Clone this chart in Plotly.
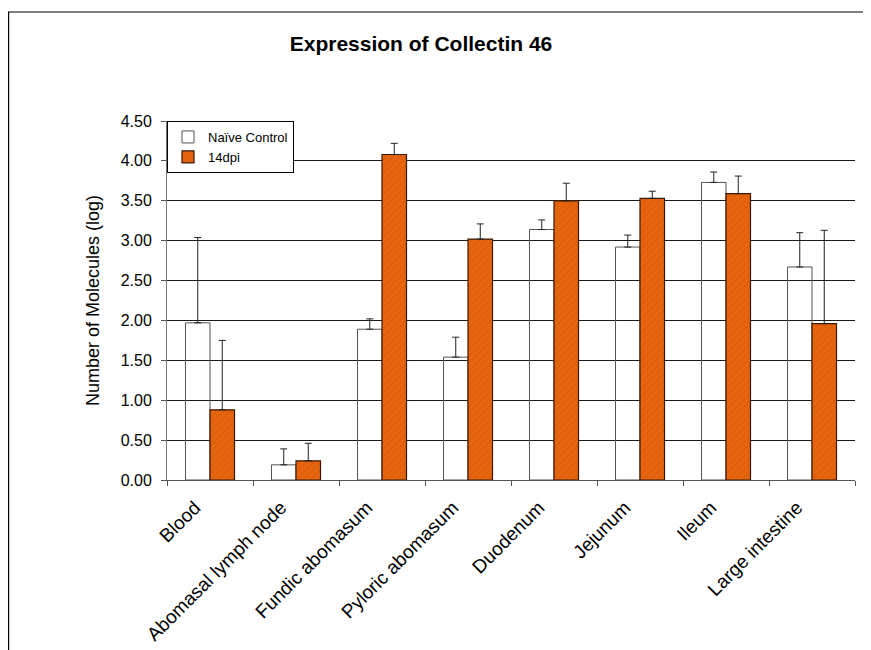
import plotly.graph_objects as go

categories = ["Blood", "Abomasal lymph node", "Fundic abomasum", "Pyloric abomasum",
              "Duodenum", "Jejunum", "Ileum", "Large intestine"]
naive_values = [1.97, 0.19, 1.89, 1.54, 3.14, 2.92, 3.73, 2.67]
naive_err = [1.07, 0.20, 0.13, 0.25, 0.12, 0.15, 0.13, 0.43]
dpi14_values = [0.88, 0.24, 4.08, 3.02, 3.50, 3.53, 3.59, 1.96]
dpi14_err = [0.87, 0.22, 0.14, 0.19, 0.22, 0.09, 0.22, 1.17]
y_ticks = [0.0, 0.5, 1.0, 1.5, 2.0, 2.5, 3.0, 3.5, 4.0, 4.5]

# page has an 8px body margin; figure offset accordingly
W, H = 863, 642
ML, MR, MT, MB = 159, 16, 113, 170
PW, PH = W - ML - MR, H - MT - MB

FONT = "Liberation Sans, Arial, sans-serif"

fig = go.Figure()
fig.add_trace(go.Bar(
    name="Naïve Control", x=categories, y=naive_values,
    marker=dict(color="rgba(255,255,255,0)", line=dict(color="#555555", width=1)),
    error_y=dict(type="data", symmetric=False, array=naive_err,
                 arrayminus=[0] * len(naive_err), color="#222222", thickness=1, width=3.5),
))
fig.add_trace(go.Bar(
    name="14dpi", x=categories, y=dpi14_values,
    marker=dict(color="#E8650F", line=dict(color="#3A1A05", width=1.2),
                pattern=dict(shape="/", fgcolor="#C9540A", size=5, solidity=0.25)),
    error_y=dict(type="data", symmetric=False, array=dpi14_err,
                 arrayminus=[0] * len(dpi14_err), color="#222222", thickness=1, width=3.5),
))

# outer chart frame (extends past right/bottom edges as in reference)
fig.add_shape(type="rect", xref="paper", yref="paper",
              x0=(0.6 - ML) / PW, x1=(W + 10 - ML) / PW,
              y0=-(MB + 10) / PH, y1=(H - MB - 4) / PH,
              line=dict(color="#000000", width=1.2), fillcolor="rgba(0,0,0,0)", layer="below")

fig.update_layout(
    width=W, height=H,
    margin=dict(l=ML, r=MR, t=MT, b=MB, pad=0, autoexpand=False),
    paper_bgcolor="white", plot_bgcolor="white",
    font=dict(family=FONT, color="#000000"),
    barmode="group", bargap=0.43, bargroupgap=0,
    title=dict(text="<b>Expression of Collectin 46</b>", x=413 / W, xref="container",
               xanchor="center", y=1 - 36 / H, yref="container", yanchor="middle",
               font=dict(size=21, family=FONT, color="#000000")),
    legend=dict(x=0, y=1, xanchor="left", yanchor="top", bgcolor="white",
                bordercolor="#000000", borderwidth=1, font=dict(size=13, family=FONT),
                itemwidth=30, tracegroupgap=0),
    showlegend=True,
)
fig.update_xaxes(
    tickangle=-45, tickfont=dict(size=19, family=FONT), automargin=False,
    showline=True, linecolor="#555555", linewidth=1,
    ticks="outside", tickson="boundaries", ticklen=5, tickcolor="#555555",
    ticklabelstandoff=8, ticklabelshift=-15,
    showgrid=False,
)
fig.update_yaxes(
    range=[0, 4.5], tickvals=y_ticks, tickformat=".2f", automargin=False,
    tickfont=dict(size=16, family=FONT), ticklabelstandoff=6,
    showgrid=True, gridcolor="#1a1a1a", gridwidth=1,
    showline=True, linecolor="#777777", linewidth=1,
    ticks="outside", ticklen=5, tickcolor="#555555", zeroline=False,
    title=dict(text="Number of Molecules (log)", font=dict(size=18, family=FONT), standoff=16),
)

fig.write_html("out.html")
